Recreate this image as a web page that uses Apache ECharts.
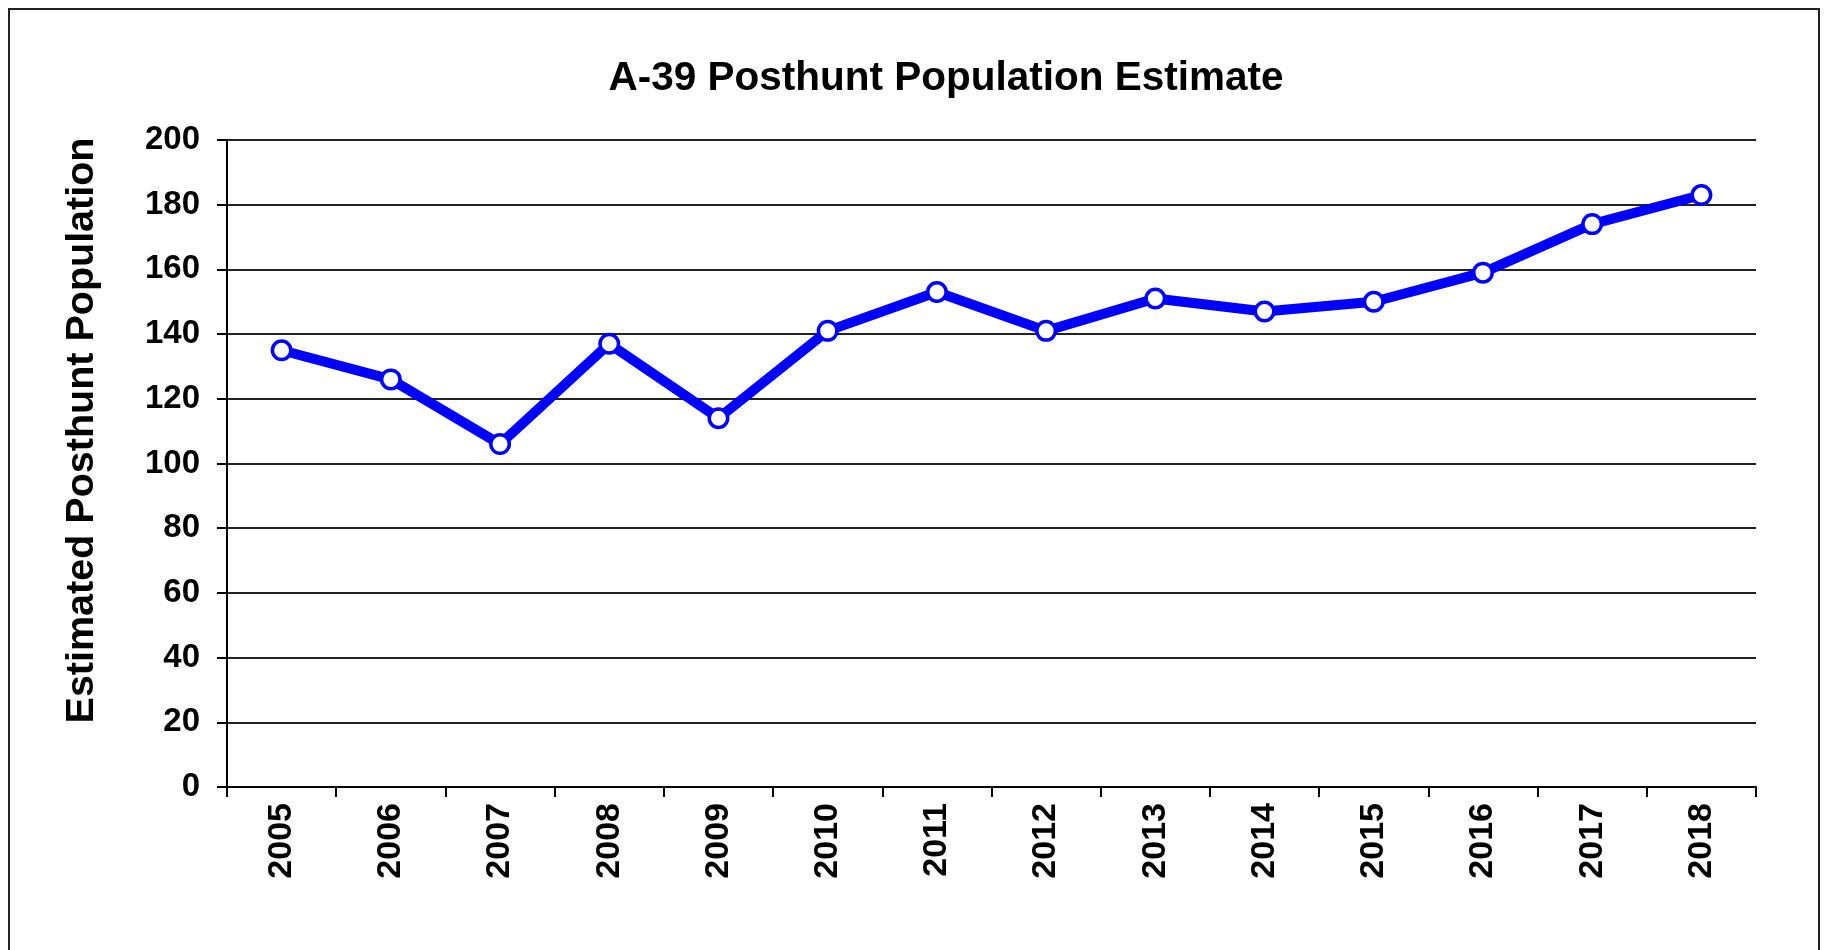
<!DOCTYPE html>
<html>
<head>
<meta charset="utf-8">
<script src="https://cdn.jsdelivr.net/npm/echarts@6/dist/echarts.min.js"></script>
<style>
html,body{margin:0;padding:0;background:#fff;}
#chart{width:1825px;height:950px;}
</style>
</head>
<body>
<div id="chart"></div>
<script>
const titleText = 'A-39 Posthunt Population Estimate';
const yAxisTitle = 'Estimated Posthunt Population';
const years = ['2005','2006','2007','2008','2009','2010','2011','2012','2013','2014','2015','2016','2017','2018'];
const population = [135, 126, 106, 137, 114, 141, 153, 141, 151, 147, 150, 159, 174, 183];
const yMin = 0, yMax = 200, yStep = 20;

const FONT = '"Liberation Sans", Arial, sans-serif';
const chart = echarts.init(document.getElementById('chart'), null, {renderer: 'canvas'});
chart.setOption({
  backgroundColor: '#fff',
  animation: false,
  title: {
    text: titleText,
    left: 941,
    top: 53,
    textAlign: 'center',
    textStyle: {fontFamily: FONT, fontWeight: 'bold', fontSize: 40.5, color: '#000'}
  },
  graphic: [{
    type: 'rect',
    shape: {x: 9, y: 9, width: 1810, height: 1000},
    style: {fill: 'none', stroke: '#222', lineWidth: 2},
    silent: true
  }],
  grid: {left: 227, right: 69, top: 140, bottom: 163},
  xAxis: {
    type: 'category',
    data: years,
    boundaryGap: true,
    axisLine: {show: true, lineStyle: {color: '#000', width: 2}},
    axisTick: {show: true, length: 10, alignWithLabel: false, lineStyle: {color: '#000', width: 2}},
    axisLabel: {rotate: 90, margin: 16, fontFamily: FONT, fontWeight: 'bold', fontSize: 34, color: '#000'},
    splitLine: {show: false}
  },
  yAxis: {
    type: 'value',
    min: yMin, max: yMax, interval: yStep,
    name: yAxisTitle,
    nameLocation: 'middle',
    nameGap: 125,
    nameRotate: 90,
    nameTextStyle: {fontFamily: FONT, fontWeight: 'bold', fontSize: 39.5, color: '#000', padding: [0, 0, 0, 66]},
    axisLine: {show: true, lineStyle: {color: '#000', width: 2}},
    axisTick: {show: true, length: 10, lineStyle: {color: '#000', width: 2}},
    axisLabel: {margin: 27, fontFamily: FONT, fontWeight: 'bold', fontSize: 33, color: '#000'},
    splitLine: {show: true, lineStyle: {color: '#222', width: 2}}
  },
  series: [{
    type: 'line',
    data: population,
    lineStyle: {color: '#0000ff', width: 10},
    symbol: 'circle',
    symbolSize: 18.5,
    itemStyle: {color: '#ffffff', borderColor: '#0000ff', borderWidth: 3.5},
    z: 5
  }]
});
</script>
</body>
</html>
